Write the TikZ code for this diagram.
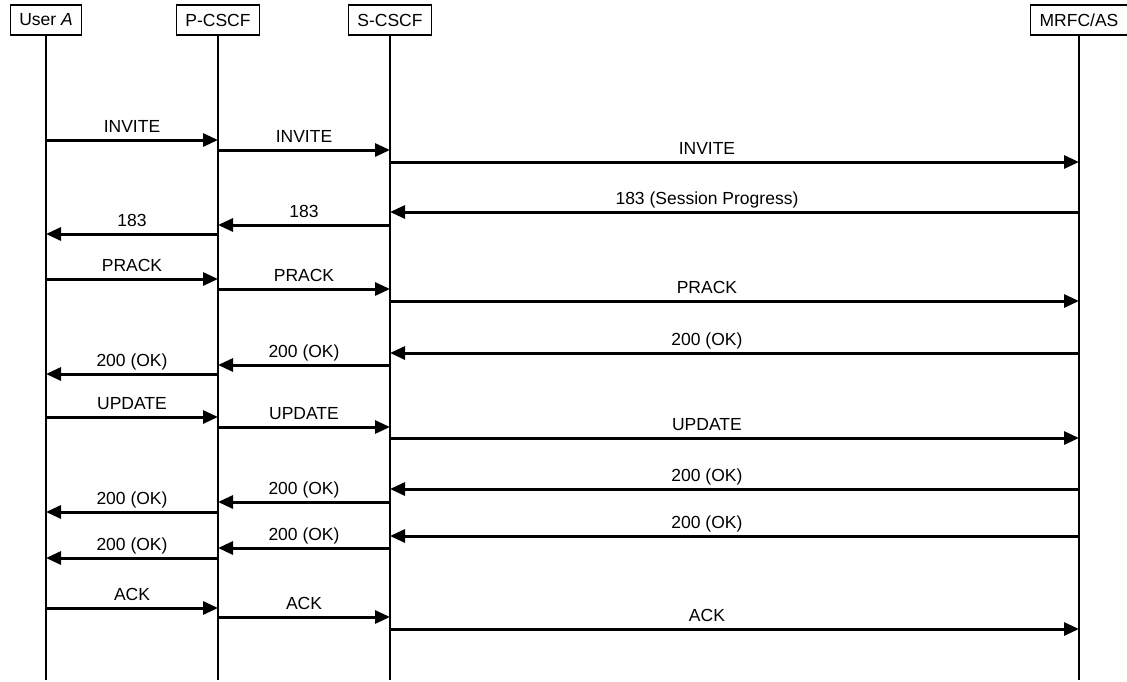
\documentclass[tikz,border=0pt]{standalone}
\usepackage{fontspec}
\setmainfont{Liberation Sans}
\usepackage{tikz}
\usetikzlibrary{
    arrows.meta,
    positioning
}
\tikzstyle{msg}=[line width=3pt,-{Triangle[length=15pt,width=13pt]}]

\begin{document}
\begin{tikzpicture}[
    x=1pt,
    y=-1pt,
    font=\fontsize{17.5}{20}\selectfont,
    entity/.style={
        rectangle,
        draw,
        line width=1.5pt,
        minimum height=30pt,
        inner xsep=9pt,
        inner ysep=0pt
    },
    lifeline/.style={line width=1.5pt},
    lbl/.style={anchor=base,yshift=8pt,inner sep=0pt}
]
\useasboundingbox (0,0) rectangle (1127,681);

% entities and lifelines
\node[entity] (usera) at (46,20) {User \textit{A}};
\node[entity] (pcscf) at (218,20) {P-CSCF};
\node[entity] (scscf) at (390,20) {S-CSCF};
\node[entity] (mrfc) at (1079,20) {MRFC/AS};

\coordinate (usera-end) at (usera |- 0,680);
\coordinate (pcscf-end) at (pcscf |- 0,680);
\coordinate (scscf-end) at (scscf |- 0,680);
\coordinate (mrfc-end) at (mrfc |- 0,680);

\draw[lifeline] (usera) -- (usera-end);
\draw[lifeline] (pcscf) -- (pcscf-end);
\draw[lifeline] (scscf) -- (scscf-end);
\draw[lifeline] (mrfc) -- (mrfc-end);

% INVITE / 183
\draw[msg] (usera |- 0,140) -- node[lbl,midway]{INVITE} (pcscf |- 0,140);
\draw[msg] (pcscf |- 0,150) -- node[lbl,midway]{INVITE} (scscf |- 0,150);
\draw[msg] (scscf |- 0,162) -- node[lbl,pos=0.46]{INVITE} (mrfc |- 0,162);
\draw[msg] (mrfc |- 0,212) -- node[lbl,pos=0.54]{183 (Session Progress)} (scscf |- 0,212);
\draw[msg] (scscf |- 0,225) -- node[lbl,midway]{183} (pcscf |- 0,225);
\draw[msg] (pcscf |- 0,234) -- node[lbl,midway]{183} (usera |- 0,234);

% PRACK / 200
\draw[msg] (usera |- 0,279) -- node[lbl,midway]{PRACK} (pcscf |- 0,279);
\draw[msg] (pcscf |- 0,289) -- node[lbl,midway]{PRACK} (scscf |- 0,289);
\draw[msg] (scscf |- 0,301) -- node[lbl,pos=0.46]{PRACK} (mrfc |- 0,301);
\draw[msg] (mrfc |- 0,353) -- node[lbl,pos=0.54]{200 (OK)} (scscf |- 0,353);
\draw[msg] (scscf |- 0,365) -- node[lbl,midway]{200 (OK)} (pcscf |- 0,365);
\draw[msg] (pcscf |- 0,374) -- node[lbl,midway]{200 (OK)} (usera |- 0,374);

% UPDATE / 200 / 200
\draw[msg] (usera |- 0,417) -- node[lbl,midway]{UPDATE} (pcscf |- 0,417);
\draw[msg] (pcscf |- 0,427) -- node[lbl,midway]{UPDATE} (scscf |- 0,427);
\draw[msg] (scscf |- 0,438) -- node[lbl,pos=0.46]{UPDATE} (mrfc |- 0,438);
\draw[msg] (mrfc |- 0,489) -- node[lbl,pos=0.54]{200 (OK)} (scscf |- 0,489);
\draw[msg] (scscf |- 0,502) -- node[lbl,midway]{200 (OK)} (pcscf |- 0,502);
\draw[msg] (pcscf |- 0,512) -- node[lbl,midway]{200 (OK)} (usera |- 0,512);
\draw[msg] (mrfc |- 0,536) -- node[lbl,pos=0.54]{200 (OK)} (scscf |- 0,536);
\draw[msg] (scscf |- 0,548) -- node[lbl,midway]{200 (OK)} (pcscf |- 0,548);
\draw[msg] (pcscf |- 0,558) -- node[lbl,midway]{200 (OK)} (usera |- 0,558);

% ACK
\draw[msg] (usera |- 0,608) -- node[lbl,midway]{ACK} (pcscf |- 0,608);
\draw[msg] (pcscf |- 0,617) -- node[lbl,midway]{ACK} (scscf |- 0,617);
\draw[msg] (scscf |- 0,629) -- node[lbl,pos=0.46]{ACK} (mrfc |- 0,629);
\end{tikzpicture}
\end{document}
